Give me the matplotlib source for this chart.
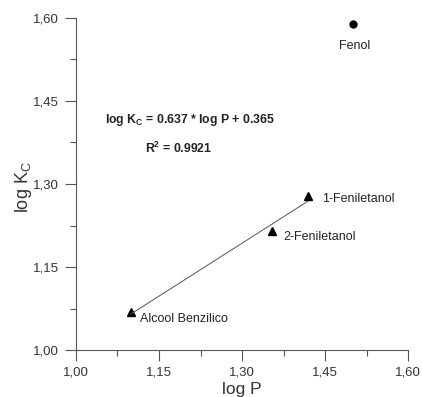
import matplotlib
matplotlib.use("Agg")
import matplotlib.pyplot as plt
from matplotlib.ticker import FuncFormatter
import numpy as np

# compounds (log P, log Kc)
names = ["Alcool Benzilico", "2-Feniletanol", "1-Feniletanol", "Fenol"]
log_p = [1.10, 1.354, 1.419, 1.50]
log_kc = [1.068, 1.216, 1.278, 1.589]
slope, intercept = 0.637, 0.365
ticks = [1.00, 1.15, 1.30, 1.45, 1.60]
minor_ticks = [1.075, 1.225, 1.375, 1.525]

plt.rcParams["font.family"] = ["Liberation Sans", "DejaVu Sans"]
plt.rcParams["mathtext.fontset"] = "custom"
plt.rcParams["mathtext.rm"] = "Liberation Sans"
plt.rcParams["mathtext.bf"] = "Liberation Sans:bold"

fig = plt.figure(figsize=(4.22, 3.97), dpi=100)
ax = fig.add_axes([0.180, 0.118, 0.787, 0.837])

# triangles for the alcohols, a dot for phenol
ax.plot(log_p[:3], log_kc[:3], "^", color="black", ms=6)
ax.plot(log_p[3], log_kc[3], "o", color="black", ms=5)

xs = np.array([log_p[0], log_p[2]])
ax.plot(xs, slope * xs + intercept, color="#555555", lw=0.7)

offsets = [(6, -5), (8, -5), (10, -2), (-10, -16)]
for n, x, y, (dx, dy) in zip(names, log_p, log_kc, offsets):
    ax.annotate(n, (x, y), xytext=(dx, dy), textcoords="offset points",
                fontsize=9, color="#222222", va="center")

ax.text(1.052, 1.415, r"log K$_\mathbf{C}$ = 0.637 * log P + 0.365",
        fontsize=8.8, fontweight="bold", color="#222222", va="center")
ax.text(1.125, 1.365, r"R$^\mathbf{2}$ = 0.9921", fontsize=8.8,
        fontweight="bold", color="#222222", va="center")

ax.set_xlim(1.0, 1.6)
ax.set_ylim(1.0, 1.6)
ax.set_xticks(ticks)
ax.set_yticks(ticks)
ax.set_xticks(minor_ticks, minor=True)
ax.set_yticks(minor_ticks, minor=True)
comma = FuncFormatter(lambda v, p: f"{v:.2f}".replace(".", ","))
ax.xaxis.set_major_formatter(comma)
ax.yaxis.set_major_formatter(comma)

for s in ["top", "right"]:
    ax.spines[s].set_visible(False)
for s in ["left", "bottom"]:
    ax.spines[s].set_color("#555555")
    ax.spines[s].set_linewidth(0.8)
ax.tick_params(which="major", length=8, width=0.8, color="#555555",
               labelsize=9.5, labelcolor="#333333", pad=4)
ax.tick_params(which="minor", length=4, width=0.8, color="#555555")

ax.set_xlabel("log P", fontsize=12.5, color="#333333", labelpad=2.5)
ax.set_ylabel(r"log K$_\mathrm{C}$", fontsize=13, color="#333333")
ax.yaxis.set_label_coords(-0.125, 0.49)

fig.savefig("out.png", dpi=100)
